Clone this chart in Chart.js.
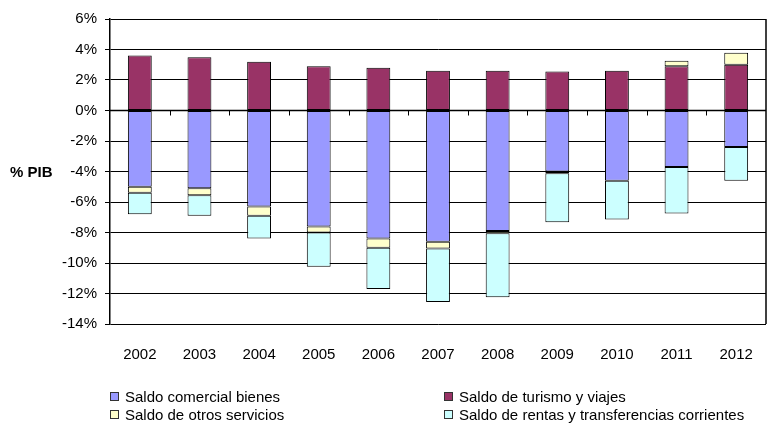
<!DOCTYPE html>
<html>
<head>
<meta charset="utf-8">
<script src="https://cdn.jsdelivr.net/npm/chart.js@4.4.0/dist/chart.umd.min.js"></script>
<style>
  body { margin: 0; background: #fff; font-family: "Liberation Sans", Arial, sans-serif; }
  #wrap { position: relative; width: 771px; height: 427px; }
  .leg { position: absolute; font-size: 15px; color: #000; line-height: 18px; white-space: nowrap; }
  .leg i { display: inline-block; width: 7px; height: 7px; border: 1px solid #333; margin-right: 6px; vertical-align: 1px; }
</style>
</head>
<body>
<div id="wrap">
  <canvas id="chart" width="771" height="427"></canvas>
  <div id="legend"></div>
</div>
<script>
// Data (% of GDP)
const years = ['2002', '2003', '2004', '2005', '2006', '2007', '2008', '2009', '2010', '2011', '2012'];
const bienes = [-5.0, -5.1, -6.3, -7.6, -8.4, -8.6, -7.9, -4.0, -4.6, -3.7, -2.4];
const turismo = [3.6, 3.5, 3.2, 2.9, 2.8, 2.6, 2.6, 2.55, 2.6, 2.9, 3.0];
const otros = [-0.4, -0.45, -0.6, -0.4, -0.6, -0.45, -0.15, -0.12, 0, 0.37, 0.79];
const rentas = [-1.4, -1.35, -1.5, -2.25, -2.7, -3.5, -4.2, -3.2, -2.55, -3.05, -2.2];

const seriesNames = ['Saldo comercial bienes', 'Saldo de turismo y viajes', 'Saldo de otros servicios', 'Saldo de rentas y transferencias corrientes'];
const seriesColors = ['#9999FF', '#993366', '#FFFFCC', '#CCFFFF'];
const seriesData = [bienes, turismo, otros, rentas];

const yMin = -14, yMax = 6, yStep = 2;

// HTML legend, two columns
const legendPos = [[110, 388], [444, 388], [110, 406], [444, 406]];
const legendEl = document.getElementById('legend');
seriesNames.forEach((name, i) => {
    const d = document.createElement('div');
    d.className = 'leg';
    d.style.left = legendPos[i][0] + 'px';
    d.style.top = legendPos[i][1] + 'px';
    d.innerHTML = '<i style="background:' + seriesColors[i] + '"></i>' + name;
    legendEl.appendChild(d);
});

// extra drawing: right border, zero line, category ticks at zero, axis title
const excelBits = {
    id: 'excelBits',
    afterDatasetsDraw(chart) {
        const ctx = chart.ctx;
        const a = chart.chartArea;
        const y = chart.scales.y;
        const y0 = y.getPixelForValue(0);
        ctx.save();
        ctx.strokeStyle = '#000';
        ctx.lineWidth = 1.5;
        ctx.beginPath();
        ctx.moveTo(a.left, y0);
        ctx.lineTo(a.right, y0);
        ctx.stroke();
        ctx.lineWidth = 1;
        const step = (a.right - a.left) / years.length;
        ctx.beginPath();
        for (let i = 1; i < years.length; i++) {
            const px = Math.round(a.left + i * step) + 0.5;
            ctx.moveTo(px, y0);
            ctx.lineTo(px, y0 + 5);
        }
        ctx.stroke();
        ctx.lineWidth = 1.5;
        ctx.beginPath();
        ctx.moveTo(a.right, a.top);
        ctx.lineTo(a.right, a.bottom);
        ctx.stroke();
        ctx.fillStyle = '#000';
        ctx.font = 'bold 15px "Liberation Sans", Arial, sans-serif';
        ctx.textAlign = 'left';
        ctx.textBaseline = 'middle';
        ctx.fillText('% PIB', 10, y.getPixelForValue(-4) + 1);
        ctx.restore();
    }
};

new Chart(document.getElementById('chart').getContext('2d'), {
    type: 'bar',
    data: {
        labels: years,
        datasets: seriesData.map((d, i) => ({
            label: seriesNames[i],
            data: d,
            backgroundColor: seriesColors[i],
            borderColor: '#000',
            borderWidth: 1,
            borderSkipped: false,
            categoryPercentage: 1,
            barPercentage: 0.4
        }))
    },
    options: {
        responsive: false,
        animation: false,
        layout: { padding: { top: 19, right: 5, left: 0, bottom: 0 } },
        plugins: {
            legend: { display: false },
            tooltip: { enabled: false }
        },
        scales: {
            x: {
                stacked: true,
                grid: { display: false },
                border: { display: false },
                ticks: {
                    color: '#000',
                    padding: 14,
                    maxRotation: 0,
                    font: { family: '"Liberation Sans", Arial, sans-serif', size: 15 }
                },
                afterFit(s) { s.height = 103; }
            },
            y: {
                stacked: true,
                min: yMin,
                max: yMax,
                ticks: {
                    stepSize: yStep,
                    color: '#000',
                    padding: 8,
                    callback: v => v + '%',
                    font: { family: '"Liberation Sans", Arial, sans-serif', size: 15 }
                },
                grid: { color: '#000', lineWidth: 1, tickLength: 5 },
                border: { color: '#000', width: 1.5 },
                afterFit(s) { s.width = 110; }
            }
        }
    },
    plugins: [excelBits]
});
</script>
</body>
</html>
